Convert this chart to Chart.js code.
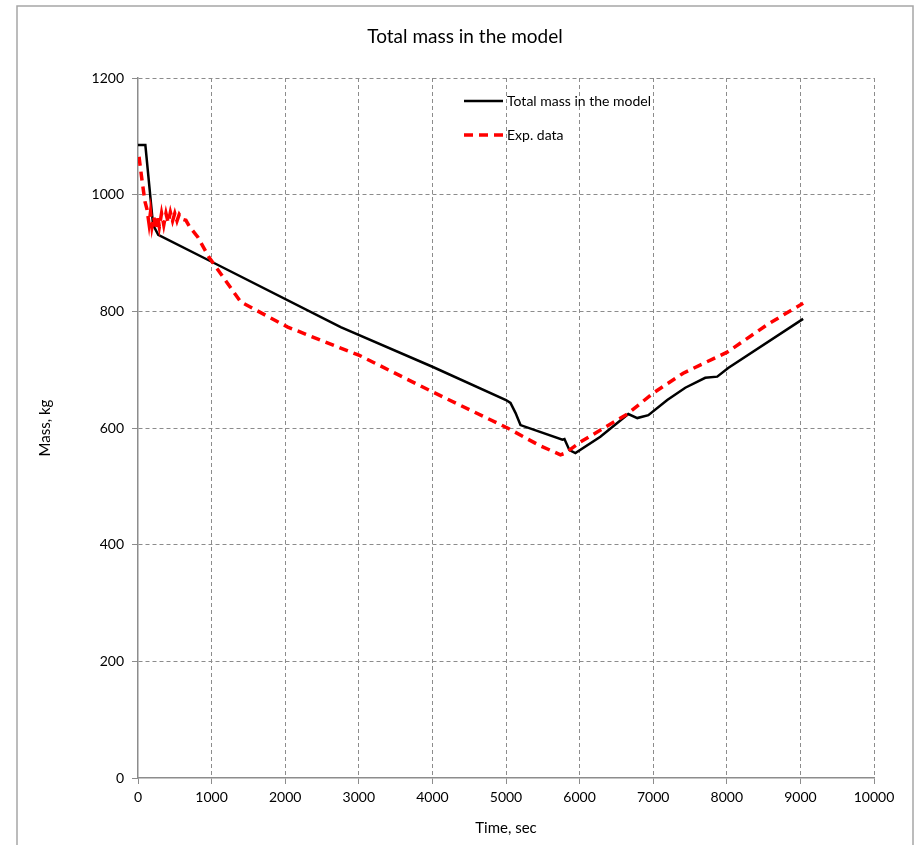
<!DOCTYPE html>
<html>
<head>
	<title>Total mass in the model</title>
	<script src="https://cdn.jsdelivr.net/npm/chart.js"></script>
	<style>
		body { margin: 0; background: #fff; }
		canvas { display: block; }
	</style>
</head>
<body>
	<canvas id="myChart" width="917" height="845"></canvas>

	<script>
		// time (s) and mass (kg)
		const modelTime = [0, 100, 205, 275, 1000, 2754, 4000, 5000, 5061, 5129, 5197, 5767, 5794, 5862, 5943, 6282, 6662, 6784, 6934, 7191, 7436, 7707, 7870, 8019, 9037];
		const modelMass = [1085, 1085, 948, 931, 885, 773, 705, 648, 643, 626, 605, 580, 581, 562, 557, 585, 624, 617, 622, 648, 669, 686, 688, 703, 787];

		const expTime = [14, 54, 95, 122, 150, 170, 190, 215, 240, 265, 290, 320, 350, 380, 410, 440, 470, 500, 530, 560, 600, 651, 700, 814, 963, 1397, 2035, 2754, 3000, 4000, 5020, 5441, 5740, 5807, 6011, 6649, 7001, 7408, 8005, 8548, 9037];
		const expMass = [1065, 1025, 988, 975, 950, 970, 945, 962, 940, 965, 945, 968, 948, 968, 952, 970, 955, 968, 955, 966, 958, 956, 945, 927, 893, 816, 773, 737, 725, 662, 600, 571, 554, 557, 576, 624, 660, 694, 730, 777, 814];

		const xTicks = [0, 1000, 2000, 3000, 4000, 5000, 6000, 7000, 8000, 9000, 10000];
		const yTicks = [0, 200, 400, 600, 800, 1000, 1200];

		const chartTitle = 'Total mass in the model';
		const legendNames = ['Total mass in the model', 'Exp. data'];

		const toPoints = (xs, ys) => xs.map((x, i) => ({x: x, y: ys[i]}));

		const font = 'Lato, "Liberation Sans", sans-serif';

		// frame, title and the legend that sits inside the plot
		const extras = {
			id: 'extras',
			beforeDraw(chart) {
				const ctx = chart.ctx;
				ctx.save();
				ctx.fillStyle = '#fff';
				ctx.fillRect(0, 0, chart.width, chart.height);
				ctx.strokeStyle = '#a6a6a6';
				ctx.lineWidth = 1.5;
				ctx.strokeRect(17, 6, 896, 900);
				ctx.restore();
			},
			afterDraw(chart) {
				const ctx = chart.ctx;
				ctx.save();
				ctx.fillStyle = '#000';
				ctx.font = '19px ' + font;
				ctx.textAlign = 'center';
				ctx.textBaseline = 'middle';
				ctx.fillText(chartTitle, 465, 37);

				ctx.font = '14px ' + font;
				ctx.textAlign = 'left';
				const rows = [101, 135];
				chart.data.datasets.forEach((ds, i) => {
					ctx.strokeStyle = ds.borderColor;
					ctx.lineWidth = ds.borderWidth;
					ctx.setLineDash(ds.borderDash || []);
					ctx.beginPath();
					ctx.moveTo(464, rows[i]);
					ctx.lineTo(503, rows[i]);
					ctx.stroke();
					ctx.fillText(ds.label, 507, rows[i]);
				});
				ctx.restore();
			}
		};

		// dashed grid, solid axis line; no grid line on top of the axes
		const gridDash = c => c.type === 'tick' ? [4, 3] : [];
		const gridColor = c => (c.tick && c.tick.value === 0) ? 'rgba(0,0,0,0)' : '#8c8c8c';

		const ctx = document.getElementById('myChart').getContext('2d');
		const chart = new Chart(ctx, {
			type: 'line',
			data: {
				datasets: [{
					label: legendNames[0],
					data: toPoints(modelTime, modelMass),
					borderColor: '#000000',
					borderWidth: 2.5,
					pointRadius: 0,
					tension: 0,
					order: 1
				}, {
					label: legendNames[1],
					data: toPoints(expTime, expMass),
					borderColor: '#ff0000',
					borderWidth: 3.5,
					borderDash: [9, 6],
					pointRadius: 0,
					tension: 0,
					order: 0
				}]
			},
			options: {
				responsive: false,
				animation: false,
				layout: { padding: { left: 0, top: 78, right: 43, bottom: 0 } },
				plugins: {
					legend: { display: false },
					title: { display: false },
					tooltip: { enabled: false }
				},
				scales: {
					x: {
						type: 'linear',
						min: 0,
						max: 10000,
						afterFit: s => { s.height = 845 - 778; },
						afterBuildTicks: s => { s.ticks = xTicks.map(v => ({value: v})); },
						ticks: { color: '#000', font: { family: font, size: 14 }, padding: 5, maxRotation: 0, callback: v => String(v) },
						grid: { color: gridColor, lineWidth: 1, tickLength: 6, tickColor: '#8c8c8c', tickBorderDash: [] },
						border: { color: '#8c8c8c', width: 1.5, dash: gridDash },
						title: { display: true, text: 'Time, sec', color: '#000', font: { family: font, size: 15 }, padding: { top: 0, bottom: 8 } }
					},
					y: {
						min: 0,
						max: 1200,
						afterFit: s => { s.width = 138; },
						afterBuildTicks: s => { s.ticks = yTicks.map(v => ({value: v})); },
						ticks: { color: '#000', font: { family: font, size: 14 }, padding: 8, callback: v => String(v) },
						grid: { color: gridColor, lineWidth: 1, tickLength: 6, tickColor: '#8c8c8c', tickBorderDash: [] },
						border: { color: '#8c8c8c', width: 1.5, dash: gridDash },
						title: { display: true, text: 'Mass, kg', color: '#000', font: { family: font, size: 15 }, padding: { top: 36, bottom: 0 } }
					}
				}
			},
			plugins: [extras]
		});
	</script>
</body>
</html>
